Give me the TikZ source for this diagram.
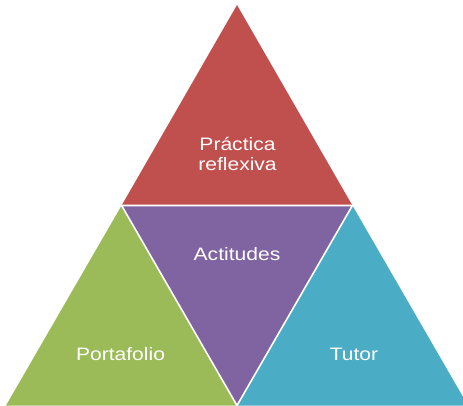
\documentclass[tikz,border=0pt]{standalone}
\usepackage{fontspec}
\setmainfont{Liberation Sans}
\definecolor{cred}{HTML}{C0504D}
\definecolor{cpurple}{HTML}{8064A2}
\definecolor{cgreen}{HTML}{9BBB59}
\definecolor{cblue}{HTML}{4BACC6}
\tikzset{
  tri/.style={draw=white, line width=1.6pt, line join=miter},
  lbl/.style={text=white, anchor=base, inner sep=0pt, font=\fontsize{18}{20}\selectfont},
}
\newcommand{\wide}[1]{\scalebox{1.17}[1]{#1}}
\begin{document}
\begin{tikzpicture}[x=1pt,y=-1pt]
\useasboundingbox (0,0) rectangle (463,405);
\clip (0,0) rectangle (463,405);
\coordinate (A) at (237,5);
\coordinate (L) at (121.6,205.5);
\coordinate (R) at (352.4,205.5);
\coordinate (BL) at (6,405.5);
\coordinate (M) at (237,405.5);
\coordinate (BR) at (468,405.5);
\fill[cred] (A) -- (L) -- (R) -- cycle;
\fill[cgreen] (L) -- (BL) -- (M) -- cycle;
\fill[cpurple] (L) -- (R) -- (M) -- cycle;
\fill[cblue] (R) -- (M) -- (BR) -- cycle;
\draw[white, line width=1.6pt] (L) -- (R) -- (M) -- cycle;
\node[lbl] (p1) at (237.5,150) {\wide{Práctica}};
\node[lbl] (p2) at (237.5,170) {\wide{reflexiva}};
\node[lbl] (ac) at (237,260) {\wide{Actitudes}};
\node[lbl] (po) at (120.5,360) {\wide{Portafolio}};
\node[lbl] (tu) at (354,360) {\wide{Tutor}};
\end{tikzpicture}
\end{document}
